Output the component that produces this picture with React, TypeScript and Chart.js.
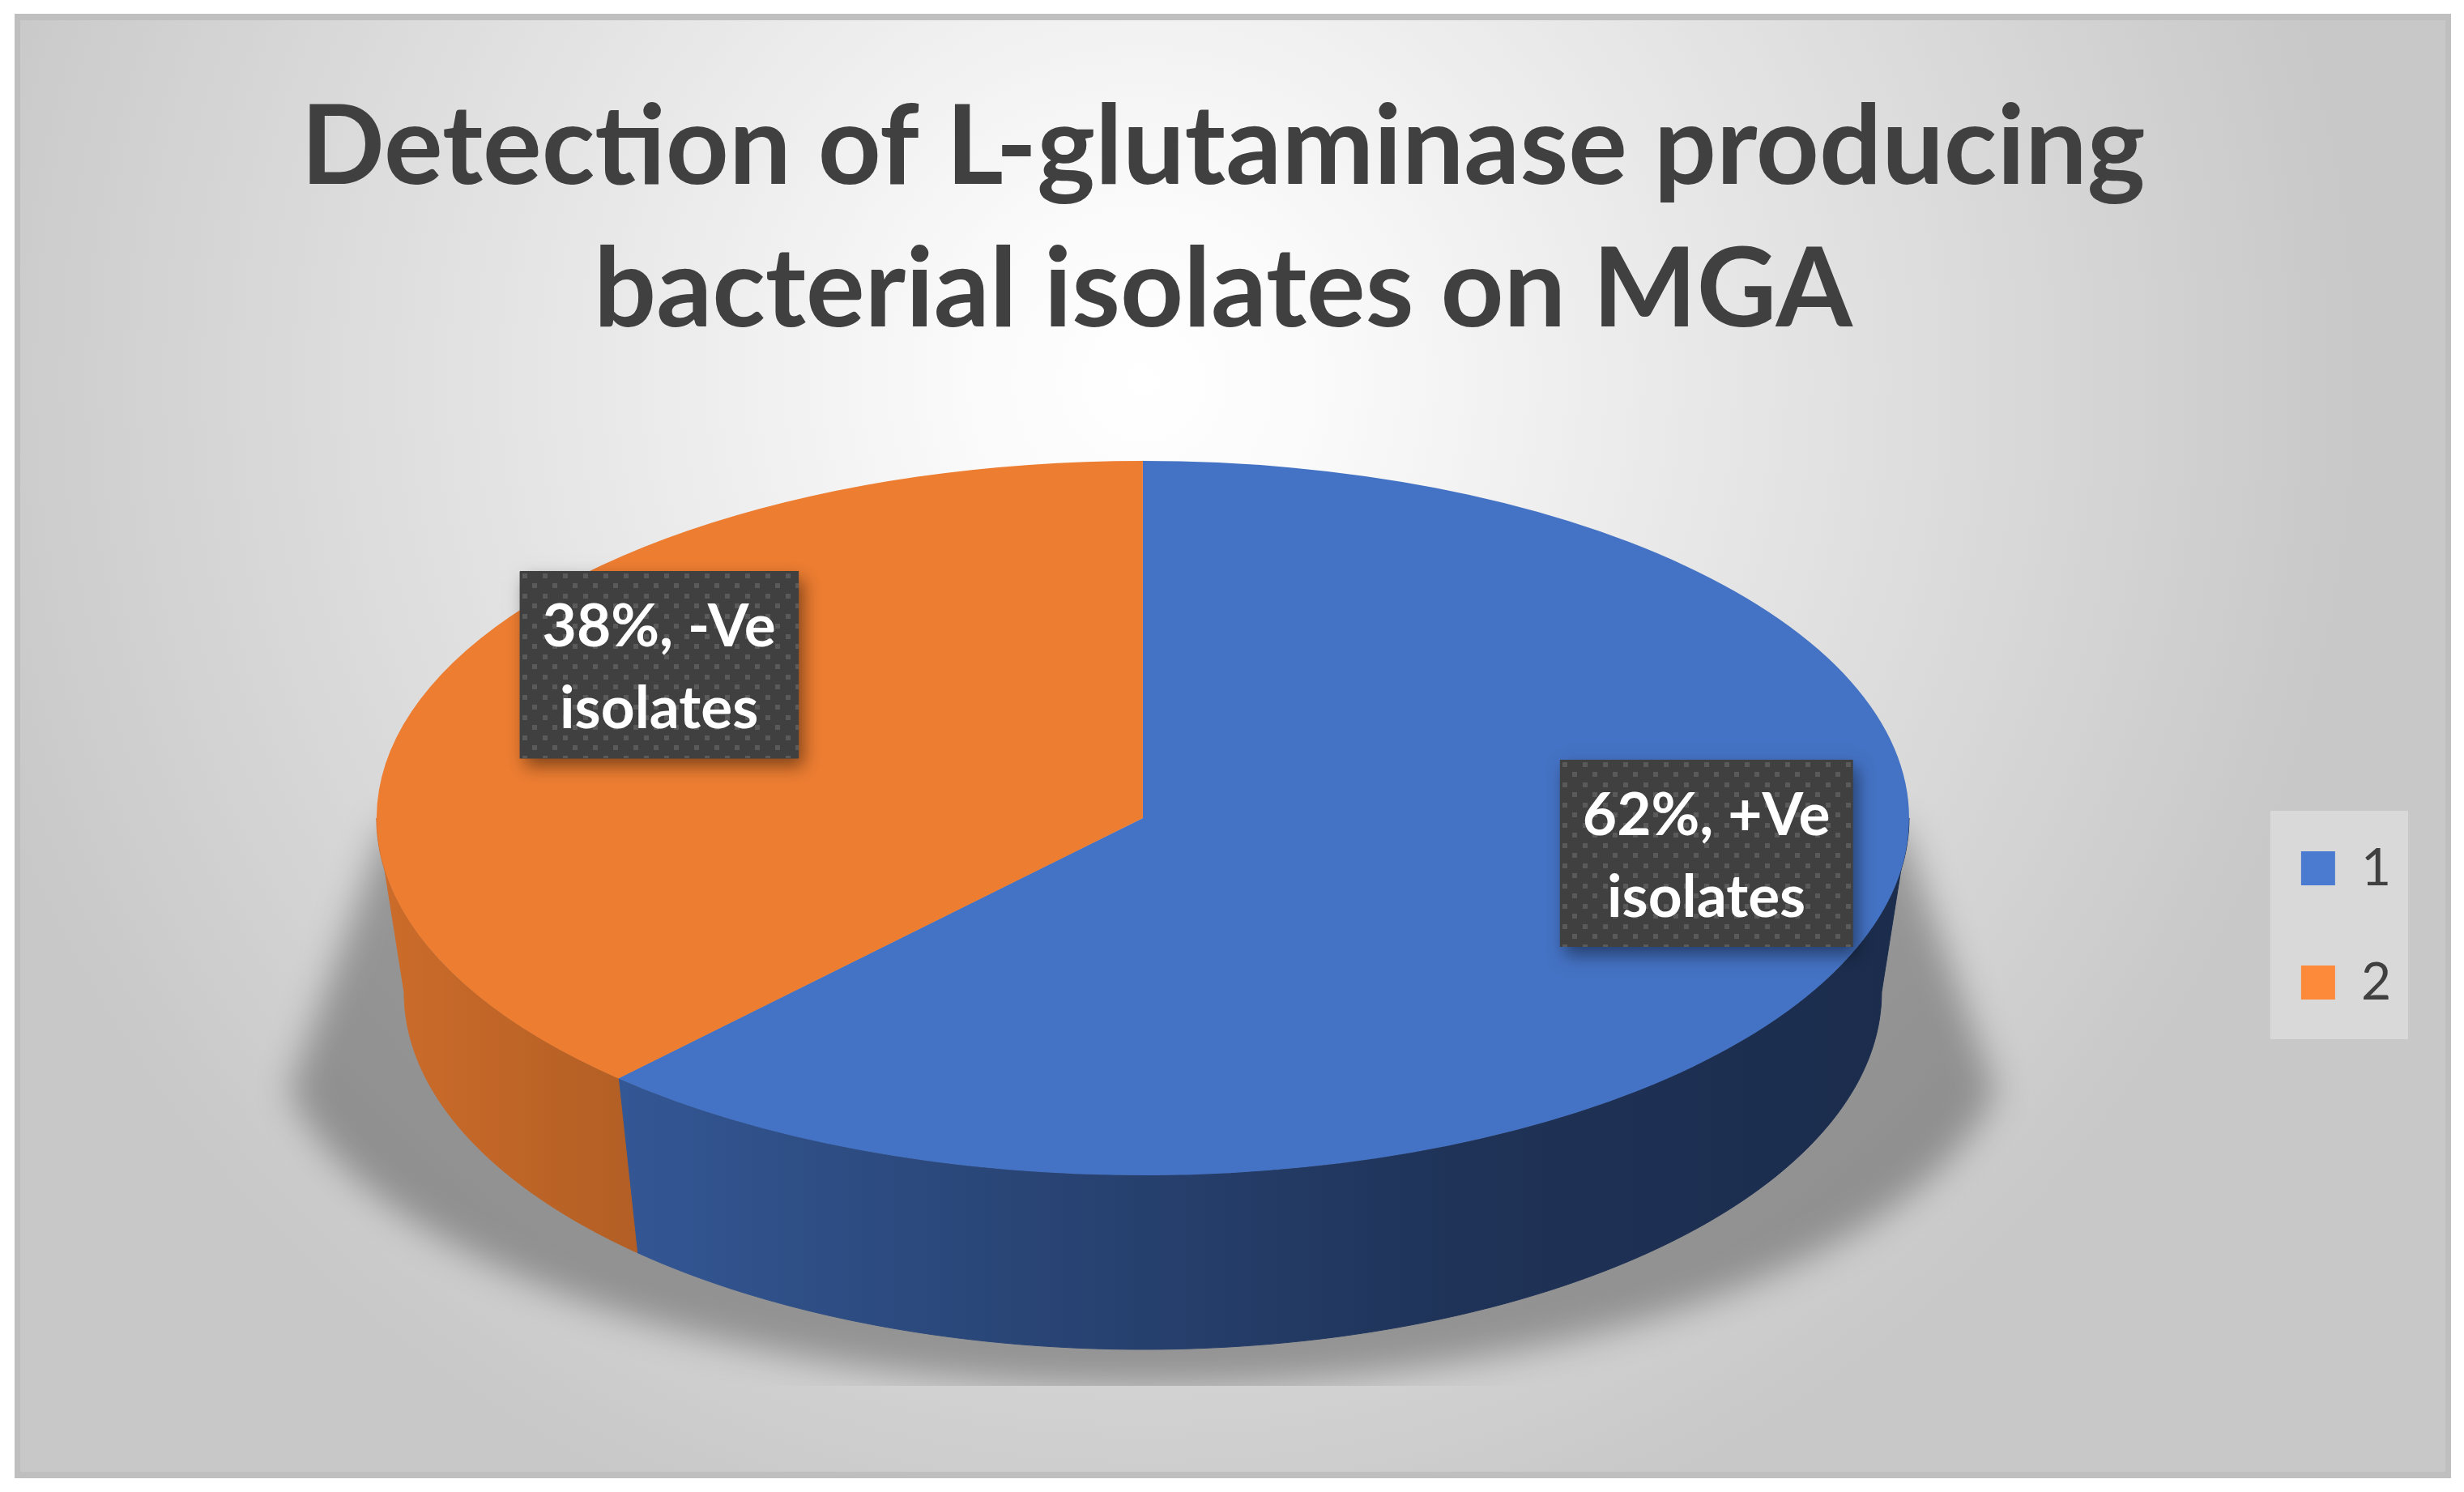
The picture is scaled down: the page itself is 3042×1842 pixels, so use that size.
import React, { useEffect, useRef } from 'react';
import { Chart, registerables } from 'chart.js';

Chart.register(...registerables);

// ---- data ----
const LEGEND_LABELS = ['1', '2'];
const CATEGORY_NAMES = ['+Ve isolates', '-Ve isolates'];
const PERCENT_VALUES = [62, 38];
const TITLE_LINES = ['Detection of L-glutaminase producing', 'bacterial isolates on MGA'];

// ---- styles ----
const TOP_COLORS = ['#4472c4', '#ed7d31'];
const LEGEND_COLORS = ['#4b7bd0', '#fd893b'];
const TEXT_DARK = '#404040';
const FONT = 'Lato';

const W = 3042;
const H = 1842;
const PIE_RADIUS = 441; // vertical radius of top face
const X_STRETCH = 946 / 441; // ellipse squash
const DEPTH = 215;
const BOTTOM_NARROW = 912 / 946;
const SIDE_SHADE: [number, number][] = [
  [0, 0.86],
  [0.124, 0.78],
  [0.282, 0.68],
  [0.705, 0.45],
  [1, 0.39],
];

function shade(hex: string, f: number) {
  const n = parseInt(hex.slice(1), 16);
  const r = Math.round(((n >> 16) & 255) * f);
  const g = Math.round(((n >> 8) & 255) * f);
  const b = Math.round((n & 255) * f);
  return `rgb(${r},${g},${b})`;
}

function visibleRanges(a: number, b: number) {
  const out: [number, number][] = [];
  for (let k = -2; k <= 2; k++) {
    const lo = Math.max(a, 2 * Math.PI * k);
    const hi = Math.min(b, 2 * Math.PI * k + Math.PI);
    if (hi > lo) out.push([lo, hi]);
  }
  return out;
}

function makePattern(ctx: CanvasRenderingContext2D) {
  const c = document.createElement('canvas');
  c.width = 25;
  c.height = 25;
  const p = c.getContext('2d')!;
  p.fillStyle = '#404040';
  p.fillRect(0, 0, 25, 25);
  p.fillStyle = '#5a5a5a';
  p.fillRect(3, 3, 6, 6);
  p.fillRect(15, 15, 6, 6);
  return ctx.createPattern(c, 'repeat')!;
}

function wrapText(ctx: CanvasRenderingContext2D, text: string, maxW: number) {
  const words = text.split(' ');
  const lines: string[] = [];
  let cur = '';
  for (const w of words) {
    const t = cur ? cur + ' ' + w : w;
    if (cur && ctx.measureText(t).width > maxW) {
      lines.push(cur);
      cur = w;
    } else cur = t;
  }
  if (cur) lines.push(cur);
  return lines;
}

const pie3d = {
  id: 'pie3d',
  beforeDraw(chart: any) {
    const ctx: CanvasRenderingContext2D = chart.ctx;
    ctx.save();
    ctx.fillStyle = '#ffffff';
    ctx.fillRect(0, 0, W, H);
    ctx.fillStyle = '#bfbfbf';
    ctx.fillRect(18, 17, 3008, 1808);
    const g = ctx.createRadialGradient(1411, 470, 0, 1411, 470, 1500);
    g.addColorStop(0, '#ffffff');
    g.addColorStop(0.15, '#fafafa');
    g.addColorStop(1, '#c8c8c8');
    ctx.fillStyle = g;
    ctx.fillRect(25, 25, 2994, 1792);

    const lg = chart.legend;
    if (lg && lg.legendHitBoxes && lg.legendHitBoxes.length) {
      const hb = lg.legendHitBoxes;
      const left = Math.min(...hb.map((h: any) => h.left)) - 38;
      const right = Math.max(...hb.map((h: any) => h.left + h.width)) + 21;
      const top = hb[0].top - 39;
      const bottom = hb[hb.length - 1].top + hb[hb.length - 1].height + 38;
      ctx.fillStyle = 'rgba(255,255,255,0.32)';
      ctx.fillRect(left, top, right - left, bottom - top);
    }
    ctx.restore();
  },
  beforeDatasetsDraw(chart: any) {
    const meta = chart.getDatasetMeta(0);
    const arcs = meta.data;
    if (!arcs.length) return;
    const ctx: CanvasRenderingContext2D = chart.ctx;
    const cx = arcs[0].x;
    const cy = arcs[0].y;
    const ry = arcs[0].outerRadius;
    const rx = ry * X_STRETCH;

    // floor shadow
    const sCy = cy + DEPTH + 45;
    const sRx = rx * 1.13;
    const sBottom = sCy + ry;
    ctx.save();
    ctx.beginPath();
    ctx.rect(0, 0, W, sBottom);
    ctx.clip();
    ctx.filter = 'blur(22px)';
    ctx.fillStyle = 'rgba(0,0,0,0.30)';
    ctx.beginPath();
    ctx.moveTo(cx - rx + 10, cy + 10);
    ctx.lineTo(cx + rx - 10, cy + 10);
    for (let k = 0; k <= 120; k++) {
      const t = (10 + (160 * k) / 120) * (Math.PI / 180);
      ctx.lineTo(cx + sRx * Math.cos(t), sCy + ry * Math.sin(t));
    }
    ctx.closePath();
    ctx.fill();
    ctx.restore();

    // side walls
    arcs.forEach((arc: any, i: number) => {
      const base = TOP_COLORS[i % TOP_COLORS.length];
      const grad = ctx.createLinearGradient(cx - rx, 0, cx + rx, 0);
      SIDE_SHADE.forEach(([p, f]) => grad.addColorStop(p, shade(base, f)));
      visibleRanges(arc.startAngle, arc.endAngle).forEach(([a, b]) => {
        const N = 120;
        ctx.beginPath();
        for (let k = 0; k <= N; k++) {
          const t = a + ((b - a) * k) / N;
          const x = cx + rx * Math.cos(t);
          const y = cy + ry * Math.sin(t);
          if (k === 0) ctx.moveTo(x, y);
          else ctx.lineTo(x, y);
        }
        for (let k = N; k >= 0; k--) {
          const t = a + ((b - a) * k) / N;
          ctx.lineTo(cx + rx * BOTTOM_NARROW * Math.cos(t), cy + DEPTH + ry * Math.sin(t));
        }
        ctx.closePath();
        ctx.fillStyle = grad;
        ctx.fill();
        ctx.strokeStyle = grad;
        ctx.lineWidth = 1;
        ctx.stroke();
      });
    });

    // squash the top face
    ctx.save();
    ctx.translate(cx, cy);
    ctx.scale(X_STRETCH, 1);
    ctx.translate(-cx, -cy);
  },
  afterDatasetsDraw(chart: any) {
    const ctx: CanvasRenderingContext2D = chart.ctx;
    ctx.restore();
    const meta = chart.getDatasetMeta(0);
    const arcs = meta.data;
    if (!arcs.length) return;
    const cx = arcs[0].x;
    const cy = arcs[0].y;
    const ry = arcs[0].outerRadius;
    const rx = ry * X_STRETCH;
    const values: number[] = chart.data.datasets[0].data;
    const total = values.reduce((s, v) => s + v, 0);
    const pattern = makePattern(ctx);

    arcs.forEach((arc: any, i: number) => {
      const mid = (arc.startAngle + arc.endAngle) / 2;
      const lx = cx + 0.052 * rx + 0.735 * rx * Math.cos(mid);
      const ly = cy - 0.165 * ry + 0.716 * ry * Math.sin(mid);
      const pct = Math.round((values[i] / total) * 100);
      ctx.save();
      ctx.font = `bold 73px ${FONT}`;
      const lines = wrapText(ctx, `${pct}%, ${CATEGORY_NAMES[i]}`, 340);
      const w = Math.max(...lines.map((l) => ctx.measureText(l).width)) + 56;
      const h = 29 + lines.length * 101;
      const x0 = lx - w / 2;
      const y0 = ly - h / 2;
      ctx.shadowColor = 'rgba(0,0,0,0.45)';
      ctx.shadowBlur = 20;
      ctx.shadowOffsetX = 6;
      ctx.shadowOffsetY = 10;
      ctx.fillStyle = '#404040';
      ctx.fillRect(x0, y0, w, h);
      ctx.shadowColor = 'transparent';
      ctx.shadowBlur = 0;
      ctx.shadowOffsetX = 0;
      ctx.shadowOffsetY = 0;
      ctx.save();
      ctx.translate(Math.round(x0), Math.round(y0));
      ctx.fillStyle = pattern;
      ctx.fillRect(0, 0, w, h);
      ctx.restore();
      ctx.fillStyle = '#ffffff';
      ctx.textAlign = 'center';
      ctx.textBaseline = 'alphabetic';
      lines.forEach((l, j) => ctx.fillText(l, lx, y0 + 93 + j * 101));
      ctx.restore();
    });
  },
};

export default function App() {
  const ref = useRef<HTMLCanvasElement | null>(null);
  useEffect(() => {
    if (!ref.current) return;
    const baseGen = (Chart as any).overrides.doughnut.plugins.legend.labels.generateLabels;
    const chart = new Chart(ref.current, {
      type: 'pie',
      data: {
        labels: LEGEND_LABELS,
        datasets: [
          {
            data: PERCENT_VALUES,
            backgroundColor: TOP_COLORS,
            borderWidth: 0,
            hoverOffset: 0,
            radius: PIE_RADIUS,
            clip: false,
          } as any,
        ],
      },
      options: {
        animation: false,
        responsive: true,
        maintainAspectRatio: false,
        devicePixelRatio: 1,
        events: [],
        layout: { padding: { left: 58, right: 80, top: 0, bottom: 322 } },
        plugins: {
          title: {
            display: true,
            text: TITLE_LINES,
            color: TEXT_DARK,
            font: { family: FONT, size: 136, weight: 'bold', lineHeight: 1.294 },
            padding: { top: 95, bottom: 53 },
          },
          legend: {
            display: true,
            position: 'right',
            align: 'center',
            title: { display: true, text: '', padding: 376.5, font: { size: 10, lineHeight: 1.2 } },
            labels: {
              boxWidth: 42,
              boxHeight: 42,
              padding: 77,
              color: TEXT_DARK,
              font: { family: FONT, size: 64 },
              generateLabels: (c: any) =>
                baseGen(c).map((it: any, i: number) => ({
                  ...it,
                  fillStyle: LEGEND_COLORS[i % LEGEND_COLORS.length],
                  strokeStyle: LEGEND_COLORS[i % LEGEND_COLORS.length],
                  lineWidth: 0,
                })),
            },
          },
          tooltip: { enabled: false },
        },
      } as any,
      plugins: [pie3d as any],
    });
    return () => chart.destroy();
  }, []);
  return (
    <div style={{ position: 'absolute', left: 0, top: 0, width: W, height: H }}>
      <canvas ref={ref} />
    </div>
  );
}
